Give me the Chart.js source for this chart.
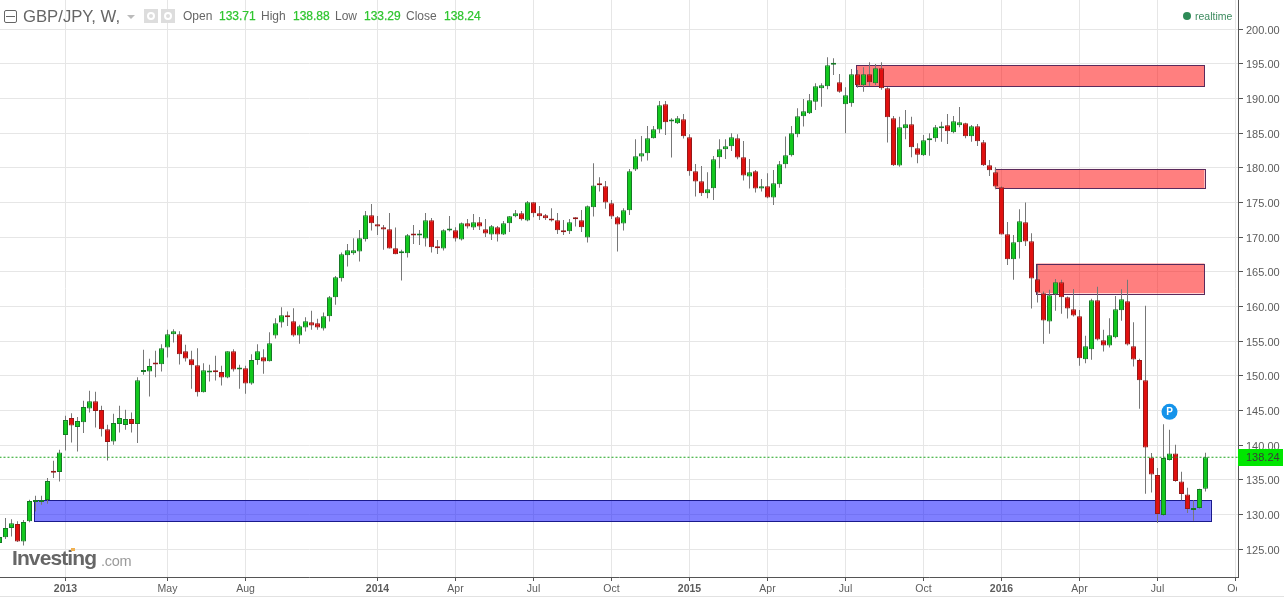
<!DOCTYPE html>
<html>
<head>
<meta charset="utf-8">
<title>GBP/JPY, W</title>
<script src="https://cdn.jsdelivr.net/npm/chart.js@4/dist/chart.umd.min.js"></script>
<style>
  html, body { margin:0; padding:0; background:#fff; overflow:hidden; }
  #wrap { position:relative; width:1284px; height:597px; font-family:"Liberation Sans",Arial,sans-serif; }
  #wrap canvas { display:block; }
  #wrap > span, #wrap > div.abs { position:absolute; white-space:nowrap; }
  .lbl { top:9px; font-size:12px; line-height:14px; color:#666; }
  .val { top:9px; font-size:12px; line-height:14px; color:#2fc52f; -webkit-text-stroke:0.25px #2fc52f; }
  .greybox { top:9px; width:14px; height:14px; background:#dddddd; }
  .greybox i { position:absolute; left:3px; top:3px; width:4px; height:4px; border:2px solid #fff; border-radius:50%; }
</style>
</head>
<body>
<div id="wrap">
  <canvas id="fxChart"></canvas>
  <div class="abs" style="left:4px;top:10px;width:11px;height:11px;border:1px solid #666;border-radius:2px;"></div>
  <div class="abs" style="left:6px;top:16px;width:9px;height:1px;background:#666;"></div>
  <span style="left:23px;top:7px;font-size:16.7px;line-height:19px;color:#666;">GBP/JPY, W,</span>
  <div class="abs" style="left:127px;top:15px;width:0;height:0;border-left:4px solid transparent;border-right:4px solid transparent;border-top:4px solid #bbb;"></div>
  <div class="abs greybox" style="left:144px;"><i></i></div>
  <div class="abs greybox" style="left:161px;"><i></i></div>
  <span class="lbl" style="left:183px;">Open</span><span class="val" style="left:219px;">133.71</span>
  <span class="lbl" style="left:261px;">High</span><span class="val" style="left:293px;">138.88</span>
  <span class="lbl" style="left:335px;">Low</span><span class="val" style="left:364px;">133.29</span>
  <span class="lbl" style="left:406px;">Close</span><span class="val" style="left:444px;">138.24</span>
  <div class="abs" style="left:1183px;top:12px;width:8px;height:8px;border-radius:50%;background:#2e8b57;"></div>
  <span style="left:1195px;top:9px;font-size:10.5px;line-height:14px;color:#3d8b5f;">realtime</span>
  <span style="left:12px;top:546px;font-size:21px;line-height:24px;font-weight:bold;letter-spacing:-0.9px;color:#666;">Investing</span>
  <span style="left:101px;top:552px;font-size:14.5px;line-height:19px;letter-spacing:-0.3px;color:#9a9a9a;">.com</span>
  <div class="abs" style="left:71px;top:548px;width:4px;height:3px;background:#f0b050;"></div>
  <div class="abs" style="left:0;top:596px;width:1284px;height:1px;background:#e2e2e2;"></div>
</div>
<script>
// ── DATA ──────────────────────────────────────────────────────────────
const opens = [
  125.86,126.68,128.03,128.6,126.1,129.0,131.8,131.8,132.06,136.1,
  136.1,141.44,143.89,142.6,143.3,145.29,146.34,145.05,142.3,140.53,
  143.03,142.9,143.75,143.03,150.53,150.62,151.82,151.68,154.08,156.0,
  156.0,153.55,152.4,151.53,147.64,150.48,150.55,150.53,149.76,153.55,
  150.91,151.1,148.89,152.26,152.69,152.11,155.81,157.69,158.5,157.88,
  155.81,156.97,157.74,157.59,156.82,158.6,161.34,164.08,167.4,167.69,
  167.93,169.7,173.17,171.87,171.43,171.15,168.41,167.69,167.69,170.3,
  170.25,169.8,172.44,168.45,168.36,170.95,171.0,169.66,172.01,171.39,
  172.16,171.15,170.38,171.43,170.38,172.01,173.02,173.45,172.4,175.04,
  173.45,173.17,172.45,172.44,171.0,170.86,172.88,172.44,169.95,174.33,
  177.55,177.36,174.9,172.88,171.97,173.89,179.76,181.63,182.12,184.28,
  185.53,189.18,186.7,186.44,187.02,184.42,179.52,178.08,176.35,177.07,
  181.54,182.69,183.13,184.28,181.54,178.75,179.52,177.02,177.36,175.72,
  177.64,180.53,181.83,184.86,187.45,187.88,189.56,191.48,191.77,194.9,
  192.35,189.17,189.32,193.5,191.91,193.5,192.2,194.37,191.48,187.15,
  180.33,185.71,186.29,182.83,181.82,183.98,184.27,185.71,186.14,185.13,
  186.14,186.43,184.56,186.0,183.69,180.38,179.37,177.2,170.43,166.82,
  169.27,172.16,169.42,163.94,161.92,157.83,161.77,163.5,161.34,159.61,
  158.6,152.4,153.84,160.91,155.14,154.37,155.57,159.46,160.76,154.27,
  152.26,149.37,138.22,135.67,129.9,137.83,138.8,134.76,132.88,130.62,
  130.91,133.71
];
const highs = [
  127.2,129.47,129.3,129.0,129.2,132.1,132.7,132.7,135.24,137.74,
  139.32,144.23,144.6,144.04,146.39,147.83,147.7,145.67,142.93,144.52,
  145.67,145.09,144.71,149.8,153.75,152.45,153.6,154.56,156.63,156.73,
  156.44,154.47,153.6,153.99,151.82,151.58,152.88,151.44,153.55,153.84,
  151.58,151.44,153.12,154.56,153.84,156.29,158.31,159.9,159.27,159.76,
  157.35,158.46,159.37,158.22,159.13,161.53,164.4,167.78,169.03,169.85,
  171.05,173.79,174.8,173.07,171.77,173.5,171.39,168.17,170.47,171.77,
  171.05,173.5,172.78,169.6,171.15,173.07,171.43,172.11,172.64,173.36,
  172.93,172.64,171.77,171.63,172.35,173.07,173.94,173.79,175.23,175.04,
  174.51,173.36,174.18,173.5,172.49,172.64,172.88,173.94,174.56,180.67,
  178.65,178.12,175.38,173.07,174.18,179.85,184.13,184.62,186.06,186.06,
  189.66,189.66,187.16,187.5,187.79,184.86,180.58,180.29,179.38,181.73,
  184.13,184.13,185.0,184.86,183.89,181.3,179.71,178.41,179.23,179.71,
  181.01,184.52,186.06,188.61,189.95,190.67,192.2,192.2,195.95,195.81,
  193.55,191.63,194.27,194.13,194.51,195.23,195.0,195.23,191.63,187.49,
  187.39,188.36,187.39,183.55,184.75,185.0,186.19,186.67,187.78,187.49,
  188.79,186.53,186.19,186.34,184.03,181.14,180.09,177.3,172.2,170.33,
  174.03,175.0,170.57,166.0,162.16,162.4,163.98,163.84,161.44,162.54,
  159.51,155.76,161.1,162.83,156.63,158.31,161.53,162.49,163.84,157.73,
  152.45,160.09,138.84,136.68,143.02,142.21,140.04,136.15,133.84,132.02,
  133.7,138.88
];
const lows = [
  125.6,126.44,126.8,126.0,125.5,128.85,130.43,131.4,131.54,135.24,
  134.76,139.23,140.38,139.08,141.73,144.71,142.55,141.25,137.78,140.05,
  141.82,142.21,141.82,140.29,150.14,147.0,149.8,150.62,152.64,154.8,
  151.63,152.06,148.12,147.0,147.6,149.18,149.32,148.6,149.66,150.62,
  148.12,147.4,148.7,151.58,150.28,152.06,155.38,156.97,157.2,155.62,
  154.61,156.39,156.63,156.63,156.53,157.83,160.24,163.6,165.76,167.45,
  166.48,169.37,170.95,170.33,168.17,168.36,167.54,163.74,167.06,169.03,
  168.89,168.65,167.78,167.59,168.07,170.81,169.37,169.51,171.24,171.05,
  171.05,170.04,169.61,169.37,170.33,170.76,172.88,172.4,172.3,172.88,
  172.49,172.49,172.25,170.47,170.33,170.47,171.53,170.76,169.22,172.97,
  176.59,174.09,172.64,167.93,170.96,173.2,179.57,180.91,181.06,184.23,
  185.0,184.76,181.49,186.35,184.23,178.85,175.87,175.96,175.62,175.38,
  179.95,181.3,182.45,181.25,178.17,177.02,176.44,176.59,175.62,174.66,
  177.12,179.95,181.63,184.42,185.96,187.79,188.36,188.84,191.34,193.4,
  190.86,185.0,188.84,191.58,191.0,191.87,191.96,191.29,183.65,180.28,
  180.18,184.13,181.53,180.66,181.72,181.77,183.79,183.79,183.45,185.0,
  185.86,184.27,183.79,183.16,180.28,178.84,176.92,170.38,166.0,163.84,
  166.92,168.74,159.7,160.57,154.61,156.05,159.37,158.94,158.26,158.55,
  151.44,151.82,152.3,155.09,153.5,154.08,155.43,157.93,154.37,151.34,
  145.24,132.98,133.17,128.75,129.8,137.78,134.71,132.02,130.19,129.08,
  130.81,133.29
];
const closes = [
  126.73,128.03,128.7,126.1,128.9,131.92,131.95,132.0,134.8,136.0,
  138.94,143.6,142.83,143.46,145.48,146.34,144.9,142.3,140.43,143.17,
  143.89,143.75,143.03,149.37,150.81,151.4,151.63,153.99,156.0,156.44,
  153.12,152.5,151.53,147.64,150.81,150.67,150.5,149.76,153.55,150.91,
  151.1,148.89,152.26,153.55,152.06,154.7,157.59,158.75,158.45,155.81,
  157.16,157.88,157.26,156.97,158.6,161.34,164.22,167.54,168.12,168.12,
  169.85,173.17,172.01,171.53,171.1,168.36,167.54,167.83,170.28,170.25,
  170.3,172.44,168.55,168.4,171.0,171.15,169.8,172.01,171.53,172.16,
  171.53,170.52,171.58,170.38,172.01,173.02,173.45,172.59,175.04,173.45,
  173.02,172.73,172.4,171.0,170.71,172.16,172.59,171.43,174.46,177.45,
  177.5,175.0,172.98,171.82,173.89,179.52,181.68,182.12,184.28,185.58,
  189.04,186.59,186.75,187.16,184.57,179.52,178.03,176.35,176.92,181.25,
  182.69,183.13,184.42,181.49,178.89,179.38,177.02,177.36,175.72,177.79,
  180.53,181.83,185.0,187.45,188.17,189.76,191.77,191.91,194.8,194.95,
  191.0,190.47,193.5,191.91,193.5,192.35,194.37,191.48,187.3,180.38,
  185.86,186.29,182.97,181.91,183.98,184.27,185.86,186.0,185.28,186.72,
  186.58,184.56,186.0,183.84,180.38,179.65,177.3,170.38,166.82,169.27,
  172.3,169.37,164.03,162.01,157.97,161.63,163.5,161.34,159.7,158.7,
  152.54,154.27,160.91,155.23,154.37,155.86,159.61,161.05,154.51,152.35,
  149.37,139.66,135.77,130.04,138.12,138.8,134.8,132.93,130.77,130.91,
  133.65,138.24
];

// week index of each time axis tick
const tickWeeks  = [11,28,41,63,76,89,102,115,128,141,154,167,180,193,206];
const tickLabels = ['2013','May','Aug','2014','Apr','Jul','Oct','2015','Apr','Jul','Oct','2016','Apr','Jul','Oct'];
const priceTicks = [125,130,135,140,145,150,155,160,165,170,175,180,185,190,195,200];

// supply / demand zones
const zoneStart  = [142.8,165.87,172.8,5.8];
const zoneEnd    = [200.83,200.83,200.83,201.9];
const zoneTop    = [194.85,179.85,166.2,132.07];
const zoneBottom = [191.75,177.07,161.9,129.03];

const lastClose = closes[closes.length - 1];
const pinWeek = 195, pinPrice = 144.8;

// ── COLORS ────────────────────────────────────────────────────────────
const COLORS = {
  up: '#12c81e', upBorder: '#167a26', down: '#e0100f', downBorder: '#961818',
  wick: '#777777', grid: '#e6e6e6', axis: '#555555', text: '#5c5c5c',
  last: '#1fa51f', tag: '#00e600', pin: '#1593ea',
};

// ── PLUGINS ───────────────────────────────────────────────────────────
const overlayPlugin = {
  id: 'overlay',
  beforeDatasetsDraw(chart) {
    const { ctx, scales: { x, y } } = chart;
    ctx.save();
    // hide the part of the last time label that runs under the price scale
    ctx.fillStyle = '#fff';
    ctx.fillRect(1237, 578, 47, 18);
    zoneStart.forEach((s, i) => {
      const blue = i === 3;
      const l = x.getPixelForValue(s), r = x.getPixelForValue(zoneEnd[i]);
      const t = y.getPixelForValue(zoneTop[i]), b = y.getPixelForValue(zoneBottom[i]);
      ctx.fillStyle = blue ? 'rgba(0,0,255,0.5)' : 'rgba(255,0,0,0.5)';
      ctx.fillRect(l, t, r - l, b - t);
      ctx.strokeStyle = blue ? '#1a1a8c' : '#5a2a5c';
      ctx.lineWidth = 1;
      ctx.strokeRect(Math.round(l) + 0.5, Math.round(t) + 0.5, Math.round(r - l), Math.round(b - t));
    });
    ctx.restore();
  },
  afterDraw(chart) {
    const { ctx, scales: { x, y } } = chart;
    ctx.save();
    // last price tag
    const py = y.getPixelForValue(lastClose);
    ctx.fillStyle = COLORS.tag;
    ctx.fillRect(1238, Math.round(py) - 8, 45, 17);
    ctx.fillStyle = '#3a3a3a';
    ctx.font = '11px "Liberation Sans", Arial, sans-serif';
    ctx.textBaseline = 'middle';
    ctx.textAlign = 'left';
    ctx.fillText(lastClose.toFixed(2), 1246, Math.round(py) + 1);
    // position pin
    const px = x.getPixelForValue(pinWeek), pp = y.getPixelForValue(pinPrice);
    ctx.beginPath();
    ctx.arc(px, pp, 8, 0, Math.PI * 2);
    ctx.fillStyle = COLORS.pin;
    ctx.fill();
    ctx.fillStyle = '#fff';
    ctx.font = 'bold 10px "Liberation Sans", Arial, sans-serif';
    ctx.textAlign = 'center';
    ctx.fillText('P', px, pp + 0.5);
    ctx.restore();
  }
};

function noPadding(s) {
  s.paddingTop = s.paddingBottom = s.paddingLeft = s.paddingRight = 0;
}

// ── CANDLE CHART ──────────────────────────────────────────────────────
const ctx = document.getElementById('fxChart');
ctx.width = 1284; ctx.height = 597;

new Chart(ctx, {
  type: 'bar',
  data: {
    datasets: [
      { type:'line', data:[{ x:0, y:lastClose }, { x:207, y:lastClose }], borderColor:COLORS.last, borderWidth:1, borderDash:[2,2], pointRadius:0, order:0 },
      { data:opens.map((o, i) => ({ x:i, y:[o, closes[i]] })), grouped:false, barThickness:5, borderWidth:1, borderSkipped:false, inflateAmount:0, minBarLength:2,
        backgroundColor:opens.map((o, i) => closes[i] >= o ? COLORS.up : COLORS.down),
        borderColor:opens.map((o, i) => closes[i] >= o ? COLORS.upBorder : COLORS.downBorder), order:1 },
      { data:lows.map((l, i) => ({ x:i, y:[l, highs[i]] })), grouped:false, barThickness:1, borderWidth:0, inflateAmount:0, backgroundColor:COLORS.wick, order:2 },
    ]
  },
  options: {
    responsive:false, animation:false, events:[],
    layout:{ padding:0 },
    plugins:{ legend:{ display:false }, tooltip:{ enabled:false } },
    scales:{
      x:{
        type:'linear', min:0.5/6, max:1238.5/6, offset:false,
        afterBuildTicks:s => { s.ticks = tickWeeks.map(value => ({ value })); },
        afterFit:s => { s.height = 20; noPadding(s); },
        grid:{ offset:false, color:COLORS.grid, tickColor:COLORS.axis, tickLength:4 },
        border:{ color:COLORS.axis, width:1 },
        ticks:{
          color:COLORS.text, padding:2, maxRotation:0, autoSkip:false,
          callback:(v, i) => tickLabels[i],
          font:c => ({ family:'"Liberation Sans", Arial, sans-serif', size:10.5, weight:c.tick && /^\d/.test(c.tick.label) ? 'bold' : 'normal' }),
        }
      },
      y:{
        position:'right', min:120.96, max:204.23,
        afterBuildTicks:s => { s.ticks = priceTicks.map(value => ({ value })); },
        afterFit:s => { s.width = 46; noPadding(s); },
        grid:{ color:COLORS.grid, tickColor:COLORS.axis, tickLength:5 },
        border:{ color:COLORS.axis, width:1 },
        ticks:{
          color:COLORS.text, padding:3, autoSkip:false,
          // empty first line + small lineHeight pushes the label 2px below its grid line
          callback:v => ['', v.toFixed(2)],
          font:{ family:'"Liberation Sans", Arial, sans-serif', size:11, lineHeight:'3px' },
        }
      }
    }
  },
  plugins:[overlayPlugin]
});
</script>
</body>
</html>
